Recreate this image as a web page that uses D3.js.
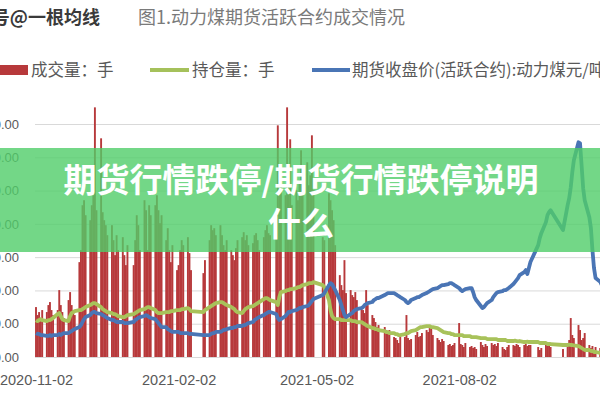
<!DOCTYPE html>
<html><head><meta charset="utf-8">
<script src="https://cdn.jsdelivr.net/npm/d3@7"></script>
<style>body{margin:0;background:#fff}svg{display:block}</style>
</head><body><svg id="c" width="600" height="400"></svg>
<script>
// ---- categories: trading days (weekdays minus exchange holidays) ----
const startDate = "2020-11-02", endDate = "2021-11-03";
const holidays = ["2021-01-01","2021-02-11","2021-02-12","2021-02-15","2021-02-16","2021-02-17",
  "2021-04-05","2021-05-03","2021-05-04","2021-05-05","2021-06-14","2021-09-20","2021-09-21",
  "2021-10-01","2021-10-04","2021-10-05","2021-10-06","2021-10-07"];

// ---- series: 成交量 (手) ----
const volume = [
  150000,126000,135000,117000,141000, 135000,156000,165000,141000,126000, 141000,201000,156000,135000,117000, 171000,195000,156000,141000,126000,
  285000,321000,456000,471000,426000, 411000,456000,486000,750000,441000, 657000,435000,411000,396000,366000, 396000,351000,306000,366000,321000, 360000,306000,276000,336000,
  276000,351000,426000,396000,321000, 471000,441000,321000,456000,426000, 456000,486000,441000,402000,426000, 351000,387000,321000,285000,336000,
  261000,276000,321000,351000,336000, 360000,312000,261000, 252000,291000, 351000,396000,381000,387000,366000,
  396000,366000,336000,321000,351000, 321000,306000,291000,327000,351000, 360000,375000,351000,366000,336000, 342000,366000,372000,351000,321000, 360000,381000,396000,372000,366000,
  441000,696000,501000,546000, 486000,750000,561000,654000,456000, 501000,471000,531000,621000,546000, 585000,516000,546000,666000,501000,
  360000,351000, 492000,471000,441000,411000,336000, 246000,216000,201000,291000,192000, 201000,186000,180000,195000,171000,
  150000,141000,132000,201000,156000, 126000,117000,105000,90000,96000, 90000,81000,72000,81000, 60000,57000,51000,42000,60000,
  60000,126000,57000,51000,54000, 66000,75000,60000,63000,72000, 81000,75000,87000,90000,66000, 57000,51000,45000,54000,48000, 36000,39000,33000,36000,42000,
  102000,39000,36000,30000,42000, 30000,33000,27000,30000,24000, 45000,36000,30000,39000,33000, 42000,36000,39000,33000,42000,
  30000,24000,21000,30000,36000, 36000,33000,39000,36000,30000, 36000,39000,33000,36000,36000, 30000,21000,27000, 36000,33000,36000,30000,
  24000, 36000,51000,117000,66000,57000, 96000,81000,51000,57000,72000, 36000,27000,33000,21000,30000, 27000,21000,24000
];

// ---- series: 持仓量 (手) ----
const openInterest = [
  111000,108000,111000,114000,111000, 108000,111000,111000,114000,117000, 129000,132000,123000,114000,111000, 108000,123000,132000,135000,138000,
  141000,141000,144000,147000,150000, 156000,159000,162000,162000,159000, 150000,144000,141000,138000,135000, 132000,129000,129000,126000,123000, 120000,120000,123000,126000,
  129000,132000,135000,138000,141000, 144000,147000,150000,150000,147000, 141000,135000,132000,132000,132000, 135000,135000,135000,138000,138000,
  141000,141000,141000,144000,144000, 147000,144000,138000, 135000,141000, 150000,153000,156000,159000,162000,
  165000,165000,162000,159000,156000, 150000,147000,144000,138000,135000, 132000,138000,144000,147000,150000, 153000,156000,159000,162000,165000, 174000,177000,177000,174000,171000,
  165000,156000,180000,195000, 198000,201000,201000,204000,204000, 207000,210000,210000,213000,216000, 219000,222000,222000,222000,225000,
  216000,210000, 171000,141000,123000,117000,114000, 114000,111000,111000,111000,111000, 111000,108000,108000,108000,105000,
  105000,102000,99000,96000,93000, 87000,87000,84000,84000,81000, 78000,75000,75000,72000, 72000,69000,69000,66000,66000,
  69000,72000,72000,75000,78000, 81000,84000,87000,90000,90000, 93000,93000,93000,90000,90000, 87000,84000,81000,78000,75000, 72000,72000,69000,69000,66000,
  66000,66000,66000,63000,63000, 63000,60000,60000,60000,60000, 57000,57000,57000,57000,54000, 54000,54000,54000,54000,51000,
  51000,51000,51000,48000,48000, 48000,49000,48000,47000,48000, 45000,45000,46000,45000,45000, 45000,42000,42000, 42000,39000,39000,39000,
  36000, 36000,37000,36000,36000,35000, 33000,30000,27000,24000,21000, 21000,18000,18000,15000,15000, 12000,12000,12000
];

// ---- series: 期货收盘价(活跃合约):动力煤 (元/吨) ----
const closePrice = [
  580,573,573,565,565, 558,558,565,558,565, 565,573,565,573,580, 580,588,595,603,610,
  625,640,663,685,700, 715,730,738,738,730, 723,715,708,700,693, 678,678,670,663,663, 663,655,655,655,
  663,678,685,693,700, 708,715,708,700,693, 685,670,655,640,625, 625,610,603,595,588,
  588,588,580,580,580, 580,573,573, 565,565, 565,573,580,580,588,
  588,595,603,603,610, 618,618,625,625,633, 633,640,640,648,655, 663,678,685,693,700, 715,723,730,738,738,
  723,693,678,685, 708,723,738,738,745, 753,760,768,768,775, 783,790,805,820,835,
  865,880, 940,955,948,925,903, 828,790,753,715,700, 723,730,745,753,760,
  768,775,790,798,805, 813,828,835,843,843, 865,873,880,880, 880,873,865,858,850,
  828,813,805,813,828, 843,850,850,858,865, 880,888,895,903,910, 918,925,933,940,940, 948,955,955,948,940,
  918,903,895,903,910, 918,918,888,850,828, 783,768,775,790,805, 828,850,865,880,888,
  895,903,903,910,918, 948,963,978,993,1015, 1038,1053,1023,1068,1113, 1240,1293,1330, 1413,1465,1488,1503,
  1353, 1540,1593,1675,1788,1878, 2013,2005,1840,1668,1578, 1450,1368,1203,1068,993, 965,940,920
];

const volTicks = [0,100000,200000,300000,400000,500000,600000,700000];
const xTickLabels = ["2020-11-02","2021-02-02","2021-05-02","2021-08-02"];
const seriesNames = ["成交量：手","持仓量：手","期货收盘价(活跃合约):动力煤元/吨"];
const chartTitle = "图1.动力煤期货活跃合约成交情况";
const sourceTag = "号@一根均线";
const bannerLines = ["期货行情跌停/期货行情跌停说明","什么"];

// ---- build dates ----
const parse = d3.utcParse("%Y-%m-%d"), fmt = d3.utcFormat("%Y-%m-%d");
const hol = new Set(holidays);
const dates = d3.utcDays(parse(startDate), d3.utcDay.offset(parse(endDate), 1))
  .filter(d => d.getUTCDay() !== 0 && d.getUTCDay() !== 6 && !hol.has(fmt(d)));
const n = Math.min(dates.length, volume.length, openInterest.length, closePrice.length);
const rows = d3.range(n).map(i => ({date: dates[i], vol: volume[i], oi: openInterest[i], price: closePrice[i]}));

// ---- scales ----
const x = d3.scaleUtc().domain([parse("2020-11-02"), parse("2021-11-03")]).range([36, 603.3]);
const yL = d3.scaleLinear().domain([0, 700000]).range([357, 124]);
const yR = d3.scaleLinear().domain([400, 2150]).range([357, 124]);

const svg = d3.select("#c");
svg.append("rect").attr("width",600).attr("height",400).attr("fill","#fff");

// title
svg.append("text").attr("x",100).attr("y",24).attr("text-anchor","end")
  .attr("font-family","'Noto Sans CJK SC'").attr("font-weight","bold").attr("font-size",18)
  .attr("fill","#3a3a3a").text(sourceTag);
svg.append("text").attr("x",138).attr("y",24)
  .attr("font-family","'Noto Sans CJK SC'").attr("font-size",18)
  .attr("fill","#7a7a7a").text(chartTitle);

// legend
const lg = svg.append("g").attr("font-family","'Noto Sans CJK SC'").attr("font-size",16.5).attr("fill","#595959");
lg.append("rect").attr("x",-2).attr("y",65).attr("width",30).attr("height",10).attr("fill","#b7393b");
lg.append("text").attr("x",31).attr("y",76).text(seriesNames[0]);
lg.append("line").attr("x1",150).attr("x2",189).attr("y1",70).attr("y2",70).attr("stroke","#a5c15b").attr("stroke-width",4);
lg.append("text").attr("x",192).attr("y",76).text(seriesNames[1]);
lg.append("line").attr("x1",312).attr("x2",350).attr("y1",70).attr("y2",70).attr("stroke","#4a75b5").attr("stroke-width",4);
lg.append("text").attr("x",352).attr("y",76).text(seriesNames[2]);

// y axis + gridlines
const yAxis = svg.append("g").attr("transform","translate(35,0)")
  .call(d3.axisLeft(yL).tickValues(volTicks).tickFormat(d3.format(",.2f")).tickSize(-565).tickPadding(16));
yAxis.select(".domain").remove();
yAxis.selectAll(".tick line").attr("stroke","#d9d9d9");
yAxis.selectAll(".tick text").attr("fill","#595959").attr("font-size",13).attr("font-family","'Liberation Sans'");

// x axis labels
const xAxis = svg.append("g").attr("transform","translate(0,357)")
  .call(d3.axisBottom(x).tickValues(xTickLabels.map(parse)).tickFormat(fmt).tickSize(0).tickPadding(18));
xAxis.select(".domain").remove();
xAxis.selectAll(".tick text").attr("fill","#595959").attr("font-size",14.5).attr("font-family","'Liberation Sans'");

// bars
svg.append("g").selectAll("rect").data(rows).join("rect")
  .attr("x", d => x(d.date) - 0.95).attr("width", 1.9)
  .attr("y", d => yL(d.vol)).attr("height", d => yL(0) - yL(d.vol))
  .attr("fill","#b7393b");

// lines
svg.append("path").datum(rows)
  .attr("d", d3.line().x(d => x(d.date)).y(d => yL(d.oi)))
  .attr("fill","none").attr("stroke","#a8c25a").attr("stroke-width",3.8).attr("stroke-linejoin","round");
svg.append("path").datum(rows)
  .attr("d", d3.line().x(d => x(d.date)).y(d => yR(d.price)))
  .attr("fill","none").attr("stroke","#4a75b5").attr("stroke-width",3.8).attr("stroke-linejoin","round");

// banner overlay
svg.append("rect").attr("x",0).attr("y",148).attr("width",600).attr("height",104)
  .attr("fill","rgb(80,205,105)").attr("opacity",0.8);
svg.append("g").attr("font-family","'Noto Sans CJK SC'").attr("font-weight","bold").attr("font-size",33)
  .attr("fill","#fff").attr("text-anchor","middle")
  .selectAll("text").data(bannerLines).join("text")
  .attr("x",301).attr("y",(d,i) => 192 + i*44).text(d => d);
</script></body></html>
